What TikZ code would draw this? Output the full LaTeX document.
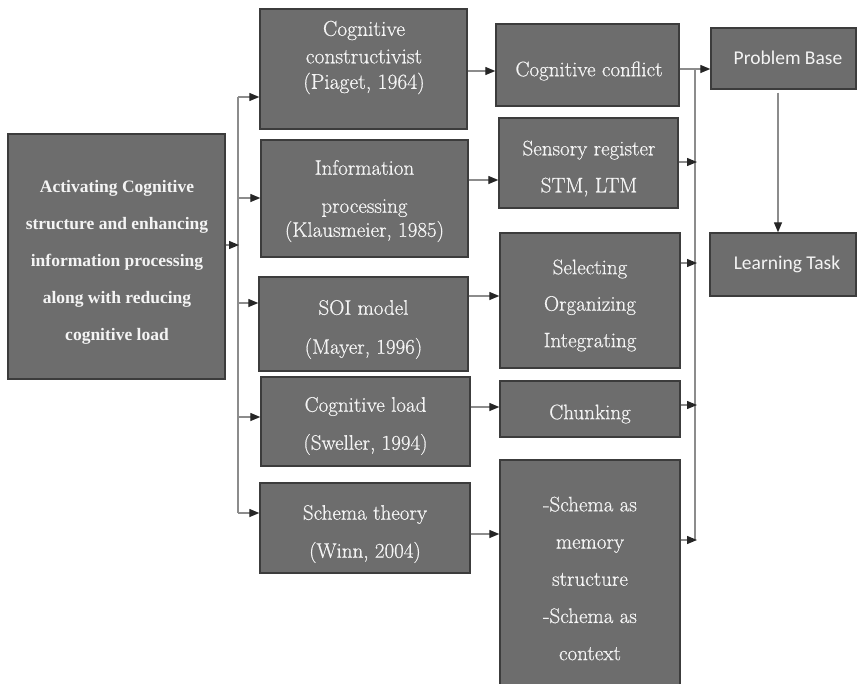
\documentclass[tikz,border=0pt]{standalone}
\usepackage{fontspec}
\usetikzlibrary{arrows.meta}
\newfontfamily\leftfont{Liberation Serif}
\newfontfamily\calfont{Carlito}
\newfontfamily\midfont{Latin Modern Roman}[FakeBold=0.6]
\definecolor{boxfill}{HTML}{6D6D6D}
\definecolor{boxedge}{HTML}{3C3C3C}
\definecolor{boxtext}{HTML}{F4F4F4}
\definecolor{linkc}{HTML}{8C8C8C}
\definecolor{tipc}{HTML}{262626}
\tikzset{
  box/.style={draw=boxedge, fill=boxfill, line width=1.4pt, inner sep=0pt},
  midtxt/.style={text=boxtext, align=center, inner sep=0pt, font=\midfont\fontsize{21}{27}\selectfont},
  lefttxt/.style={text=boxtext, align=center, inner sep=0pt, font=\leftfont\bfseries\fontsize{17.5}{37}\selectfont},
  caltxt/.style={text=boxtext, align=center, inner sep=0pt, font=\calfont\fontsize{19.5}{24}\selectfont},
  link/.style={draw=linkc, line width=1.3pt},
  arr/.style={link, -{Triangle[length=10pt,width=8pt,color=tipc]}}
}
\begin{document}
\begin{tikzpicture}[x=1pt,y=-1pt]
\useasboundingbox[fill=white] (0,0) rectangle (857,683);
\begin{scope}
\clip (0,0) rectangle (857,683);

% source box
\node[box, minimum width=217pt, minimum height=245pt] (src) at (116.5,256.5) {};
\node[lefttxt] (srct) at (117,262) {Activating Cognitive\\structure and enhancing\\information processing\\along with reducing\\cognitive load};

% theories
\node[box, minimum width=207pt, minimum height=120pt] (cc) at (363.5,69) {};
\node[midtxt, font=\midfont\fontsize{21.5}{27.5}\selectfont] (cct) at (364,57.5) {Cognitive\\constructivist\\[-2pt](Piaget, 1964)};
\node[box, minimum width=207pt, minimum height=117pt] (ip) at (364.5,198.5) {};
\node[midtxt] (ipt) at (364.5,201) {Information\\[11pt]processing\\[-3pt](Klausmeier, 1985)};
\node[box, minimum width=209pt, minimum height=94pt] (soi) at (363.5,324) {};
\node[midtxt, font=\midfont\fontsize{21}{39}\selectfont] (soit) at (363.5,329.5) {SOI model\\(Mayer, 1996)};
\node[box, minimum width=209pt, minimum height=89pt] (cl) at (365.5,421.5) {};
\node[midtxt, font=\midfont\fontsize{21}{38}\selectfont] (clt) at (365.5,426) {Cognitive load\\(Sweller, 1994)};
\node[box, minimum width=210pt, minimum height=90pt] (st) at (365,528) {};
\node[midtxt, font=\midfont\fontsize{21}{38}\selectfont] (stt) at (365,534) {Schema theory\\(Winn, 2004)};

% outcomes
\node[box, minimum width=183pt, minimum height=82pt] (conf) at (587.5,65) {};
\node[midtxt] (conft) at (589,71) {Cognitive conflict};
\node[box, minimum width=179pt, minimum height=90pt] (sr) at (588.5,163) {};
\node[midtxt, font=\midfont\fontsize{21}{37}\selectfont] (srt) at (589,168.5) {Sensory register\\STM, LTM};
\node[box, minimum width=180pt, minimum height=135pt] (sel) at (590,300.5) {};
\node[midtxt, font=\midfont\fontsize{21}{36.5}\selectfont] (selt) at (590,305.5) {Selecting\\Organizing\\Integrating};
\node[box, minimum width=180pt, minimum height=56pt] (chk) at (590,409) {};
\node[midtxt] (chkt) at (590,414) {Chunking};
\node[box, minimum width=180pt, minimum height=232pt] (sch) at (590,576) {};
\node[midtxt, font=\midfont\fontsize{21}{37.2}\selectfont] (scht) at (590,578.5) {-Schema as\\memory\\structure\\-Schema as\\context};

% targets
\node[box, minimum width=145pt, minimum height=61pt] (pb) at (783.5,58.5) {};
\node[caltxt] (pbt) at (788,57.5) {Problem Base};
\node[box, minimum width=146pt, minimum height=63pt] (lt) at (783,264.5) {};
\node[caltxt] (ltt) at (787,264.5) {Learning Task};
\end{scope}

% left trunk
\coordinate (j0) at (239,245);
\coordinate (t1) at (238,97);
\coordinate (t2) at (238,198);
\coordinate (t3) at (238,303);
\coordinate (t4) at (238,417);
\coordinate (t5) at (238,513);
\draw[link] (t1) -- (t5);
\draw[arr] (src.east |- j0) -- (j0);
\draw[arr] (t1) -- (cc.west |- t1);
\draw[arr] (t2) -- (ip.west |- t2);
\draw[arr] (t3) -- (soi.west |- t3);
\draw[arr] (t4) -- (cl.west |- t4);
\draw[arr] (t5) -- (st.west |- t5);

% theory to outcome
\coordinate (m1) at (0,71);
\coordinate (m2) at (0,180);
\coordinate (m3) at (0,296);
\coordinate (m4) at (0,407);
\coordinate (m5) at (0,534);
\draw[arr] (cc.east |- m1) -- (conf.west |- m1);
\draw[arr] (ip.east |- m2) -- (sr.west |- m2);
\draw[arr] (soi.east |- m3) -- (sel.west |- m3);
\draw[arr] (cl.east |- m4) -- (chk.west |- m4);
\draw[arr] (st.east |- m5) -- (sch.west |- m5);

% right trunk
\coordinate (r1) at (695,69);
\coordinate (r2) at (697,162);
\coordinate (r3) at (697,263);
\coordinate (r4) at (697,405);
\coordinate (r5) at (697,540);
\draw[link] (695,69) -- (695,540);
\draw[arr] (conf.east |- r1) -- (pb.west |- r1);
\draw[arr] (sr.east |- r2) -- (r2);
\draw[arr] (sel.east |- r3) -- (r3);
\draw[arr] (chk.east |- r4) -- (r4);
\draw[arr] (sch.east |- r5) -- (r5);

% problem base to learning task
\coordinate (pl) at (778,0);
\draw[arr] (pb.south -| pl) ++(0,3) -- (lt.north -| pl);
\end{tikzpicture}
\end{document}
